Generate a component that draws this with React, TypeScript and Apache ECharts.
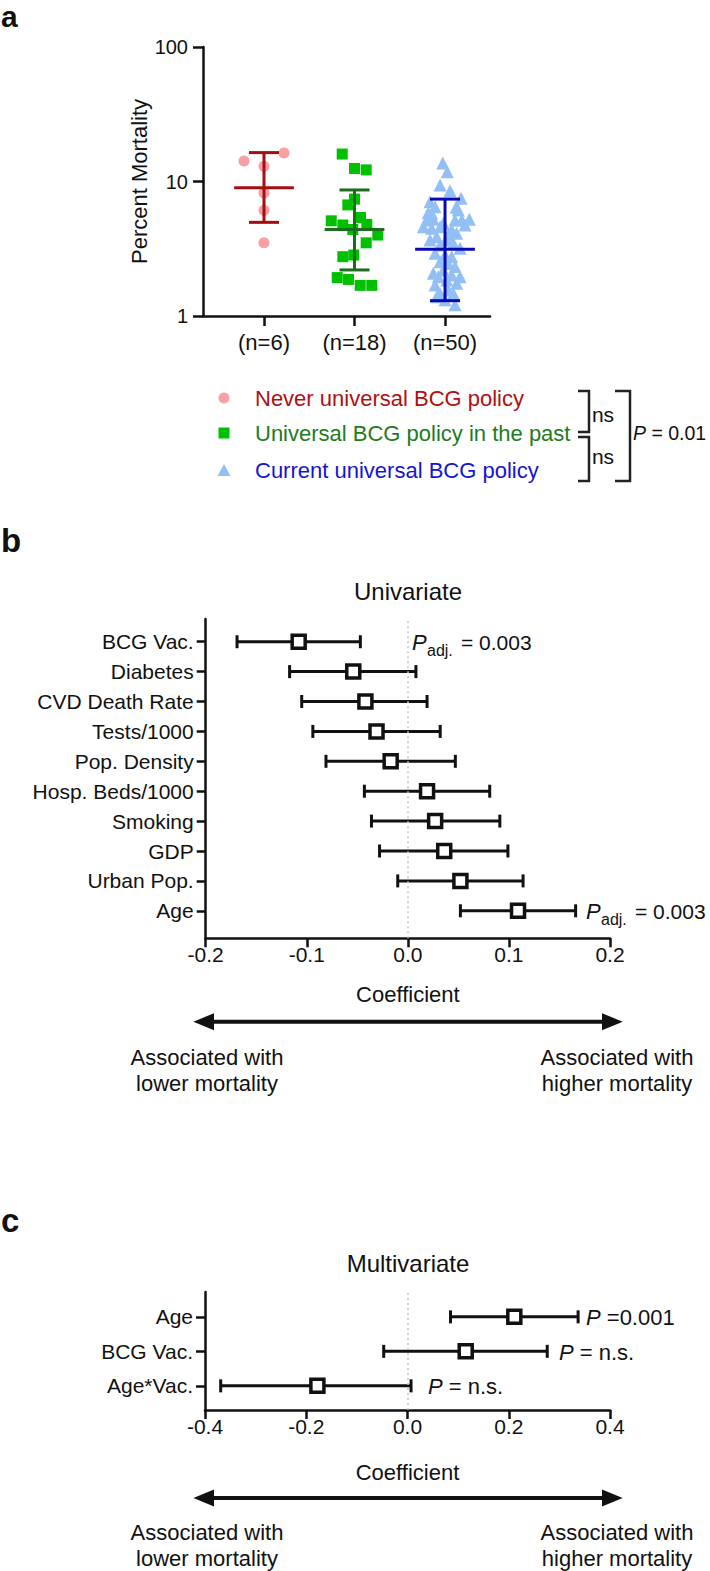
import React, { useEffect, useRef } from "react";
import * as echarts from "echarts";

// ---------- Panel a data ----------
const groupLabels = ["(n=6)", "(n=18)", "(n=50)"];
const legendLabels = [
  "Never universal BCG policy",
  "Universal BCG policy in the past",
  "Current universal BCG policy",
];
const neverValues = [14.2, 16.3, 13.0, 8.2, 6.1, 3.5];
const neverJitter = [-0.221, 0.221, 0, 0, 0, 0];
const pastValues = [16.0, 12.5, 12.2, 7.4, 6.7, 5.1, 5.4, 4.75, 4.8, 4.4, 4.0, 3.5, 2.76, 2.84, 1.93, 1.87, 1.69, 1.69];
const pastJitter = [-0.136, 0, 0.129, 0, -0.074, -0.257, 0.066, -0.129, 0.136, -0.019, 0.257, 0.129, -0.129, -0.008, -0.191, -0.066, 0.063, 0.191];
const currentValues = [
  13.7, 11.8, 9.4, 8.55, 7.5, 7.08, 6.5, 6.43, 5.86, 6.14,
  5.17, 5.24, 5.17, 5.17, 5.24, 4.61, 4.49, 4.61, 4.36, 4.75,
  4.12, 3.89, 3.67, 3.47, 3.37, 2.93, 2.84, 2.76, 2.53, 2.46,
  2.33, 1.96, 2.02, 1.85, 1.7, 1.75, 1.47, 1.56, 1.39, 1.32,
  1.21, 5.8, 4.89, 4.0, 3.67, 3.19, 2.2, 2.08, 1.96, 1.47,
];
const currentJitter = [
  -0.025, 0.025, -0.055, 0.055, 0.177, -0.166, -0.11, 0.122, -0.185, 0.147,
  -0.202, -0.129, 0.11, 0.185, 0.269, -0.24, -0.147, -0.055, 0.074, 0.221,
  0.129, -0.092, 0.019, 0.092, -0.055, -0.11, 0, 0.074, -0.055, 0.036,
  0.11, -0.074, 0.074, 0.019, -0.11, 0.129, -0.055, 0.036, -0.092, 0,
  0.11, -0.147, -0.019, 0.036, -0.166, 0.166, -0.019, -0.129, 0.166, 0.092,
];
// geometric mean and error bar ends per group
const groupMean = [9.0, 4.4, 3.13];
const groupLower = [4.97, 2.2, 1.3];
const groupUpper = [16.4, 8.65, 7.4];

// ---------- Panel b data ----------
const uniFactors = ["BCG Vac.", "Diabetes", "CVD Death Rate", "Tests/1000", "Pop. Density", "Hosp. Beds/1000", "Smoking", "GDP", "Urban Pop.", "Age"];
const uniCoef = [-0.108, -0.054, -0.042, -0.031, -0.017, 0.019, 0.027, 0.036, 0.052, 0.109];
const uniLower = [-0.169, -0.117, -0.105, -0.094, -0.081, -0.043, -0.036, -0.028, -0.01, 0.052];
const uniUpper = [-0.047, 0.008, 0.019, 0.032, 0.047, 0.081, 0.091, 0.099, 0.114, 0.166];
const uniXTicks = [-0.2, -0.1, 0.0, 0.1, 0.2];

// ---------- Panel c data ----------
const multiFactors = ["Age", "BCG Vac.", "Age*Vac."];
const multiCoef = [0.211, 0.115, -0.178];
const multiLower = [0.085, -0.047, -0.369];
const multiUpper = [0.337, 0.276, 0.007];
const multiP = ["=0.001", "= n.s.", "= n.s."];
const multiXTicks = [-0.4, -0.2, 0.0, 0.2, 0.4];

// ---------- styles ----------
const FONT = '"Liberation Sans", Arial, Helvetica, sans-serif';
const INK = "#111111";
const POINT_COLORS = ["#F8A0A3", "#00C000", "#92BFF4"];
const BAR_COLORS = ["#A50F0F", "#1D6B1D", "#0A0AB4"];
const TEXT_COLORS = ["#B01010", "#1E7B1E", "#1414D2"];

const txt = (x: number, y: number, text: string, o: any = {}) => ({
  type: "text",
  x,
  y,
  silent: true,
  style: {
    text,
    fill: o.fill || INK,
    fontSize: o.size || 22,
    fontFamily: FONT,
    fontWeight: o.weight || "normal",
    fontStyle: o.italic ? "italic" : "normal",
    align: o.align || "left",
    verticalAlign: o.va || "middle",
    rich: o.rich,
  },
});

const makeRich = (size: number) => ({
  i: { fontStyle: "italic", fontSize: size, fontFamily: FONT, fill: INK },
  n: { fontSize: size, fontFamily: FONT, fill: INK },
});
const pRich = makeRich(22);

const pAdj = (x: number, y: number) => [
  txt(x, y, "P", { italic: true }),
  txt(x + 15, y + 8, "adj.", { size: 16 }),
  txt(x + 49, y, "= 0.003", { size: 21 }),
];

const arrow = (y: number) => [
  { type: "line", silent: true, shape: { x1: 210, y1: y, x2: 606, y2: y }, style: { stroke: INK, lineWidth: 4 } },
  { type: "polygon", silent: true, shape: { points: [[193.4, y], [214, y - 8.5], [214, y + 8.5]] }, style: { fill: INK } },
  { type: "polygon", silent: true, shape: { points: [[622.7, y], [602, y - 8.5], [602, y + 8.5]] }, style: { fill: INK } },
];

const bracket = (x1: number, x2: number, y1: number, y2: number) => ({
  type: "polyline",
  silent: true,
  shape: { points: [[x1, y1], [x2, y1], [x2, y2], [x1, y2]] },
  style: { stroke: "#222", lineWidth: 2.5, fill: null },
});

const axisLineStyle = { onZero: false, lineStyle: { color: INK, width: 2.5 } };
const tickStyle = { color: INK, width: 2.5 };
const fmt1 = (v: number) => (Math.abs(v) < 1e-9 ? "0.0" : v.toFixed(1));

const forestRender = (params: any, api: any) => {
  const y = api.value(3);
  const lo = api.coord([api.value(0), y]);
  const est = api.coord([api.value(1), y]);
  const hi = api.coord([api.value(2), y]);
  const cap = 6.5;
  const half = 6.5;
  const st = { stroke: INK, lineWidth: 3 };
  return {
    type: "group",
    children: [
      { type: "line", shape: { x1: lo[0], y1: lo[1], x2: hi[0], y2: hi[1] }, style: st },
      { type: "line", shape: { x1: lo[0], y1: lo[1] - cap, x2: lo[0], y2: lo[1] + cap }, style: st },
      { type: "line", shape: { x1: hi[0], y1: hi[1] - cap, x2: hi[0], y2: hi[1] + cap }, style: st },
      {
        type: "rect",
        shape: { x: est[0] - half, y: est[1] - half, width: 2 * half, height: 2 * half },
        style: { fill: "#ffffff", stroke: INK, lineWidth: 3.5 },
      },
    ],
  };
};

const groupBarRender = (params: any, api: any) => {
  const x = api.value(0);
  const m = api.value(1);
  const mean = api.coord([x, m]);
  const lo = api.coord([x, api.value(2)]);
  const hi = api.coord([x, api.value(3)]);
  const mL = api.coord([x - 0.33, m])[0];
  const mR = api.coord([x + 0.33, m])[0];
  const cL = api.coord([x - 0.166, m])[0];
  const cR = api.coord([x + 0.166, m])[0];
  const st = { stroke: BAR_COLORS[params.dataIndex], lineWidth: 3 };
  return {
    type: "group",
    children: [
      { type: "line", shape: { x1: mean[0], y1: lo[1], x2: mean[0], y2: hi[1] }, style: st },
      { type: "line", shape: { x1: mL, y1: mean[1], x2: mR, y2: mean[1] }, style: st },
      { type: "line", shape: { x1: cL, y1: lo[1], x2: cR, y2: lo[1] }, style: st },
      { type: "line", shape: { x1: cL, y1: hi[1], x2: cR, y2: hi[1] }, style: st },
    ],
  };
};

const zeroLine = (axisIdx: number) => ({
  type: "scatter",
  xAxisIndex: axisIdx,
  yAxisIndex: axisIdx,
  data: [],
  silent: true,
  z: 1,
  markLine: {
    silent: true,
    symbol: "none",
    label: { show: false },
    lineStyle: { color: "#c4c4c4", type: [2, 3], width: 1.5 },
    data: [{ xAxis: 0 }],
  },
});

const uniRows = uniFactors.map((_, i) => [uniLower[i], uniCoef[i], uniUpper[i], uniFactors.length - i]);
const multiRows = multiFactors.map((_, i) => [multiLower[i], multiCoef[i], multiUpper[i], multiFactors.length - i]);

const option: any = {
  animation: false,
  textStyle: { fontFamily: FONT, color: INK },
  grid: [
    { left: 203, top: 47, width: 287, height: 269, containLabel: false, outerBoundsMode: "none" },
    { left: 205.7, top: 619, width: 404.3, height: 319.3, containLabel: false, outerBoundsMode: "none" },
    { left: 205, top: 1292, width: 405, height: 118, containLabel: false, outerBoundsMode: "none" },
  ],
  xAxis: [
    {
      gridIndex: 0,
      type: "value",
      min: 0.326,
      max: 3.497,
      axisLine: axisLineStyle,
      axisTick: { show: true, customValues: [1, 2, 3], length: 10, lineStyle: tickStyle },
      axisLabel: {
        customValues: [1, 2, 3],
        formatter: (v: number) => groupLabels[Math.round(v) - 1] || "",
        fontSize: 22,
        color: INK,
        margin: 15,
        fontFamily: FONT,
      },
      splitLine: { show: false },
    },
    {
      gridIndex: 1,
      type: "value",
      min: uniXTicks[0],
      max: uniXTicks[uniXTicks.length - 1],
      interval: 0.1,
      name: "Coefficient",
      nameLocation: "middle",
      nameGap: 45,
      nameTextStyle: { fontSize: 22, color: INK, fontFamily: FONT },
      axisLine: axisLineStyle,
      axisTick: { length: 9, lineStyle: tickStyle },
      axisLabel: { fontSize: 21, color: INK, margin: 6, formatter: fmt1, fontFamily: FONT },
      splitLine: { show: false },
    },
    {
      gridIndex: 2,
      type: "value",
      min: multiXTicks[0],
      max: multiXTicks[multiXTicks.length - 1],
      interval: 0.2,
      name: "Coefficient",
      nameLocation: "middle",
      nameGap: 51,
      nameTextStyle: { fontSize: 22, color: INK, fontFamily: FONT },
      axisLine: axisLineStyle,
      axisTick: { length: 9, lineStyle: tickStyle },
      axisLabel: { fontSize: 21, color: INK, margin: 6, formatter: fmt1, fontFamily: FONT },
      splitLine: { show: false },
    },
  ],
  yAxis: [
    {
      gridIndex: 0,
      type: "log",
      logBase: 10,
      min: 1,
      max: 100,
      name: "Percent Mortality",
      nameLocation: "middle",
      nameRotate: 90,
      nameGap: 52,
      nameTextStyle: { fontSize: 22, color: INK, fontFamily: FONT },
      axisLine: axisLineStyle,
      axisTick: { length: 10, lineStyle: tickStyle },
      minorTick: { show: false },
      axisLabel: { fontSize: 20, color: INK, margin: 15, fontFamily: FONT },
      splitLine: { show: false },
    },
    {
      gridIndex: 1,
      type: "value",
      min: 0.08,
      max: 10.76,
      axisLine: axisLineStyle,
      axisTick: { customValues: uniFactors.map((_, i) => uniFactors.length - i), length: 9, lineStyle: tickStyle },
      axisLabel: {
        customValues: uniFactors.map((_, i) => uniFactors.length - i),
        formatter: (v: number) => uniFactors[uniFactors.length - Math.round(v)] || "",
        fontSize: 21,
        color: INK,
        margin: 12,
        fontFamily: FONT,
      },
      splitLine: { show: false },
    },
    {
      gridIndex: 2,
      type: "value",
      min: 0.3,
      max: 3.72,
      axisLine: axisLineStyle,
      axisTick: { customValues: multiFactors.map((_, i) => multiFactors.length - i), length: 9, lineStyle: tickStyle },
      axisLabel: {
        customValues: multiFactors.map((_, i) => multiFactors.length - i),
        formatter: (v: number) => multiFactors[multiFactors.length - Math.round(v)] || "",
        fontSize: 21,
        color: INK,
        margin: 12,
        fontFamily: FONT,
      },
      splitLine: { show: false },
    },
  ],
  series: [
    {
      name: legendLabels[0],
      type: "scatter",
      xAxisIndex: 0,
      yAxisIndex: 0,
      symbol: "circle",
      symbolSize: 11,
      itemStyle: { color: POINT_COLORS[0], opacity: 1 },
      z: 2,
      data: neverValues.map((v, i) => [1 + neverJitter[i], v]),
    },
    {
      name: legendLabels[1],
      type: "scatter",
      xAxisIndex: 0,
      yAxisIndex: 0,
      symbol: "rect",
      symbolSize: 11,
      itemStyle: { color: POINT_COLORS[1], opacity: 1 },
      z: 2,
      data: pastValues.map((v, i) => [2 + pastJitter[i], v]),
    },
    {
      name: legendLabels[2],
      type: "scatter",
      xAxisIndex: 0,
      yAxisIndex: 0,
      symbol: "triangle",
      symbolSize: 13,
      itemStyle: { color: POINT_COLORS[2], opacity: 1 },
      z: 2,
      data: currentValues.map((v, i) => [3 + currentJitter[i], v]),
    },
    {
      type: "custom",
      xAxisIndex: 0,
      yAxisIndex: 0,
      z: 3,
      renderItem: groupBarRender,
      data: groupMean.map((m, i) => [i + 1, m, groupLower[i], groupUpper[i]]),
    },
    zeroLine(1),
    {
      type: "custom",
      xAxisIndex: 1,
      yAxisIndex: 1,
      z: 3,
      renderItem: forestRender,
      data: uniRows,
    },
    zeroLine(2),
    {
      type: "custom",
      xAxisIndex: 2,
      yAxisIndex: 2,
      z: 3,
      renderItem: forestRender,
      data: multiRows,
    },
  ],
  graphic: [
    // panel letters
    txt(1, 16, "a", { size: 30, weight: "bold" }),
    txt(1, 540.3, "b", { size: 33, weight: "bold" }),
    txt(1, 1220.6, "c", { size: 33, weight: "bold" }),
    // panel a legend
    { type: "circle", silent: true, shape: { cx: 224, cy: 398, r: 5.5 }, style: { fill: POINT_COLORS[0] } },
    { type: "rect", silent: true, shape: { x: 218.5, y: 427.5, width: 11, height: 11 }, style: { fill: POINT_COLORS[1] } },
    { type: "polygon", silent: true, shape: { points: [[224, 464], [230.5, 476], [217.5, 476]] }, style: { fill: POINT_COLORS[2] } },
    txt(255, 398, legendLabels[0], { fill: TEXT_COLORS[0] }),
    txt(255, 433, legendLabels[1], { fill: TEXT_COLORS[1] }),
    txt(255, 470, legendLabels[2], { fill: TEXT_COLORS[2] }),
    bracket(578, 589, 391, 432),
    bracket(578, 589, 437, 481),
    txt(603, 414, "ns", { align: "center", size: 21 }),
    txt(603, 456, "ns", { align: "center", size: 21 }),
    bracket(615, 630, 391, 481),
    txt(633, 433, "{i|P}{n| = 0.01}", { rich: makeRich(19.5) }),
    // panel b
    txt(408, 591, "Univariate", { size: 24, align: "center" }),
    ...pAdj(412, 642),
    ...pAdj(586, 911),
    ...arrow(1021.7),
    txt(207, 1057, "Associated with", { align: "center" }),
    txt(207, 1083, "lower mortality", { align: "center" }),
    txt(617, 1057, "Associated with", { align: "center" }),
    txt(617, 1083, "higher mortality", { align: "center" }),
    // panel c
    txt(408, 1263, "Multivariate", { size: 24, align: "center" }),
    txt(586, 1317, "{i|P}{n| " + multiP[0] + "}", { rich: pRich }),
    txt(559, 1352, "{i|P}{n| " + multiP[1] + "}", { rich: pRich }),
    txt(428, 1386, "{i|P}{n| " + multiP[2] + "}", { rich: pRich }),
    ...arrow(1498),
    txt(207, 1532, "Associated with", { align: "center" }),
    txt(207, 1558, "lower mortality", { align: "center" }),
    txt(617, 1532, "Associated with", { align: "center" }),
    txt(617, 1558, "higher mortality", { align: "center" }),
  ],
};

export default function App() {
  const ref = useRef<HTMLDivElement>(null);
  useEffect(() => {
    if (!ref.current) return;
    const chart = echarts.init(ref.current, null, { renderer: "svg" });
    chart.setOption(option);
    return () => chart.dispose();
  }, []);
  return (
    <div
      ref={ref}
      style={{ position: "absolute", left: 0, top: 0, width: 710, height: 1571, background: "#ffffff" }}
    />
  );
}
